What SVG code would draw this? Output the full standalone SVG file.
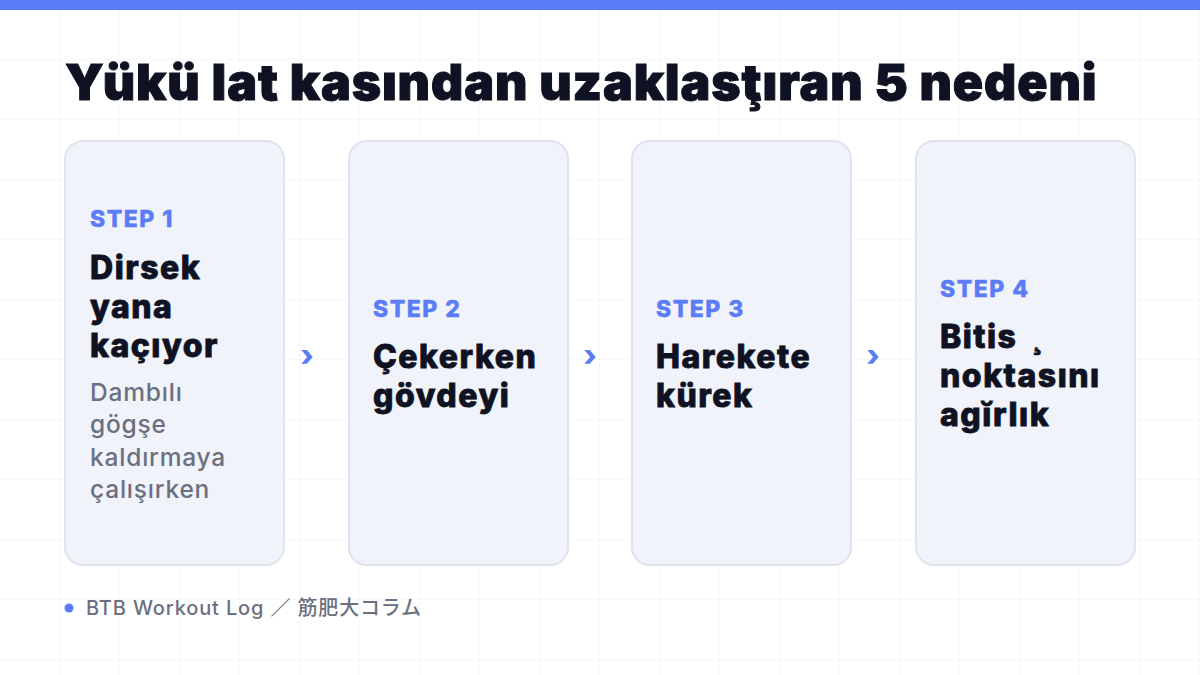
<svg xmlns="http://www.w3.org/2000/svg" width="1200" height="675" viewBox="0 0 1200 675">
<defs>
<pattern id="grid" width="60" height="60" patternUnits="userSpaceOnUse">
<path d="M60 0V60M0 60H60" fill="none" stroke="#eef0f4" stroke-width="1"/>
</pattern>
<style>
text{font-family:Inter,"Noto Sans","Noto Sans CJK JP",sans-serif}
.card{fill:#f1f3fa;stroke:#e0e3ee;stroke-width:2}
.step{font-size:23px;font-weight:800;fill:#5b7cf7;letter-spacing:1.5px;stroke:#5b7cf7;stroke-width:0.4}
.head{font-size:32px;font-weight:800;fill:#0f1222;letter-spacing:1.5px;stroke:#0f1222;stroke-width:0.8}
.desc{font-size:24.5px;font-weight:500;fill:#6b7080;letter-spacing:0.8px}
.arr{font-size:30px;font-weight:800;fill:#5b7cf7}
</style>
</defs>
<rect width="1200" height="675" fill="#ffffff"/>
<rect width="1200" height="675" fill="url(#grid)"/>
<rect width="1200" height="10" fill="#5b7cf7"/>
<text x="65" y="100" font-size="50" font-weight="900" fill="#0f1222" stroke="#0f1222" stroke-width="1" letter-spacing="0.9">Yükü lat kasından uzaklasţıran 5 nedeni</text>
<g id="connectors">
<text class="arr" x="307" y="366" text-anchor="middle">›</text>
<text class="arr" x="590" y="366" text-anchor="middle">›</text>
<text class="arr" x="873" y="366" text-anchor="middle">›</text>
</g>
<g id="step1">
<rect class="card" x="65" y="141" width="219" height="424" rx="18"/>
<text class="step" x="90" y="227">STEP 1</text>
<text class="head" x="90" y="279">Dirsek</text>
<text class="head" x="90" y="318">yana</text>
<text class="head" x="90" y="357">kaçıyor</text>
<text class="desc" x="90" y="401">Dambılı</text>
<text class="desc" x="90" y="433">gögşe</text>
<text class="desc" x="90" y="466">kaldırmaya</text>
<text class="desc" x="90" y="498">çalışırken</text>
</g>
<g id="step2">
<rect class="card" x="349" y="141" width="219" height="424" rx="18"/>
<text class="step" x="373" y="317">STEP 2</text>
<text class="head" x="373" y="368">Çekerken</text>
<text class="head" x="373" y="407">gövdeyi</text>
</g>
<g id="step3">
<rect class="card" x="632" y="141" width="219" height="424" rx="18"/>
<text class="step" x="656" y="317">STEP 3</text>
<text class="head" x="656" y="368">Harekete</text>
<text class="head" x="656" y="407">kürek</text>
</g>
<g id="step4">
<rect class="card" x="916" y="141" width="219" height="424" rx="18"/>
<text class="step" x="940" y="297">STEP 4</text>
<text class="head" x="940" y="348">Bitis <tspan dx="4">¸</tspan></text>
<text class="head" x="940" y="387">noktasını</text>
<text class="head" x="940" y="426">agĭrlık</text>
</g>
<g id="footer">
<circle cx="69" cy="608" r="4.5" fill="#5b7cf7"/>
<text x="86" y="615" font-size="20" font-weight="500" fill="#6b7080" letter-spacing="0.85">BTB Workout Log ／ 筋肥大コラム</text>
</g>
</svg>
